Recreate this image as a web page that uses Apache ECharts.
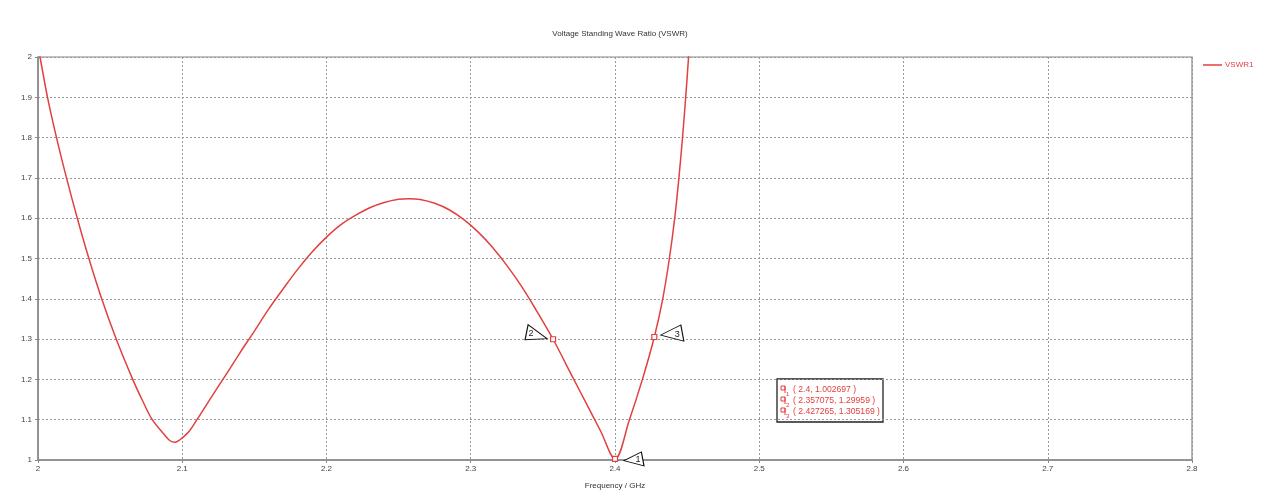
<!DOCTYPE html>
<html>
<head>
<meta charset="utf-8">
<title>Voltage Standing Wave Ratio (VSWR)</title>
<script src="https://cdn.jsdelivr.net/npm/echarts@6/dist/echarts.min.js"></script>
<style>
  html, body { margin: 0; padding: 0; background: #fff; }
  #chart { width: 1267px; height: 495px; }
</style>
</head>
<body>
<div id="chart"></div>
<script>
// Frequency sweep (GHz) and the VSWR at each frequency
const freqGHz = [2.0, 2.00139, 2.00659, 2.01283, 2.01976, 2.02724, 2.03529, 2.04416, 2.05421, 2.06565,
  2.0725, 2.0792, 2.0869, 2.0915, 2.095, 2.0984, 2.1042, 2.1102,
  2.12, 2.13, 2.14, 2.15, 2.16, 2.17, 2.18, 2.19, 2.2, 2.21, 2.22, 2.23, 2.24, 2.25, 2.257,
  2.265, 2.275, 2.285, 2.295, 2.305, 2.315, 2.325, 2.335, 2.345, 2.357075,
  2.37, 2.38, 2.39, 2.4, 2.41, 2.419, 2.427265,
  2.4331, 2.4377, 2.4414, 2.4443, 2.4468, 2.449, 2.451, 2.4528];
const vswr = [2.026, 2.0, 1.9, 1.8, 1.7, 1.6, 1.5, 1.4, 1.3, 1.2,
  1.147, 1.1, 1.066, 1.0478, 1.0438, 1.0502, 1.0686, 1.1,
  1.155, 1.21, 1.266, 1.32, 1.375, 1.425, 1.473, 1.516, 1.553, 1.584, 1.607, 1.626, 1.639, 1.647, 1.6485,
  1.6465, 1.637, 1.621, 1.597, 1.566, 1.528, 1.483, 1.432, 1.374, 1.29959,
  1.21, 1.141, 1.072, 1.002697, 1.1, 1.2, 1.305169,
  1.4, 1.5, 1.6, 1.7, 1.8, 1.9, 2.0, 2.1];

// Markers placed on the trace
const markerIds = ['1', '2', '3'];
const markerFreq = [2.4, 2.357075, 2.427265];
const markerVswr = [1.002697, 1.29959, 1.305169];

// Axis ticks
const xTicks = [2, 2.1, 2.2, 2.3, 2.4, 2.5, 2.6, 2.7, 2.8];
const yTicks = [1, 1.1, 1.2, 1.3, 1.4, 1.5, 1.6, 1.7, 1.8, 1.9, 2];

const RED = '#e2403f';
const FONT = 'Liberation Sans';

const seriesData = freqGHz.map((f, i) => [f, vswr[i]]);

// Flag shapes: pointing left (flag sits right of marker) and pointing right
const flagLeft = 'path://M0,10 L20,0 L23,16 Z';
const flagRight = 'path://M3,0 L0,14 L22,13 Z';
const flagSpec = {
  '1': { path: flagLeft, size: [20, 14], offset: [19, 0], labelOffset: [4, 1] },
  '2': { path: flagRight, size: [22, 15], offset: [-17, -7], labelOffset: [-5, 1] },
  '3': { path: flagLeft, size: [23, 16], offset: [18, -4], labelOffset: [5, 1] }
};

const markerDots = markerIds.map((id, i) => ({
  coord: [markerFreq[i], markerVswr[i]],
  symbol: 'rect', symbolSize: 5,
  itemStyle: { color: '#fff', borderColor: RED, borderWidth: 1.2 },
  label: { show: false }
}));
const markerFlags = markerIds.map((id, i) => ({
  coord: [markerFreq[i], markerVswr[i]],
  symbol: flagSpec[id].path,
  symbolSize: flagSpec[id].size,
  symbolOffset: flagSpec[id].offset,
  symbolKeepAspect: false,
  itemStyle: { color: '#fff', borderColor: '#111', borderWidth: 1 },
  label: {
    show: true, formatter: id, position: 'inside',
    offset: flagSpec[id].labelOffset,
    color: '#222', fontSize: 9, fontFamily: FONT
  }
}));

const chart = echarts.init(document.getElementById('chart'), null, { renderer: 'canvas' });

// Marker readout box
const boxX = 777, boxY = 379, boxW = 106, boxH = 43;
const readout = [
  { type: 'rect', shape: { x: boxX, y: boxY, width: boxW, height: boxH },
    style: { fill: '#fff', stroke: '#222', lineWidth: 1.3 } }
];
markerIds.forEach((id, i) => {
  const ly = boxY + 11 + i * 11;
  readout.push({ type: 'rect', shape: { x: boxX + 4, y: ly - 4, width: 4, height: 4 },
    style: { fill: 'none', stroke: RED, lineWidth: 1 } });
  readout.push({ type: 'line', shape: { x1: boxX + 8, y1: ly - 4, x2: boxX + 8, y2: ly + 3 },
    style: { stroke: RED, lineWidth: 1 } });
  readout.push({ type: 'text', x: boxX + 9, y: ly + 1,
    style: { text: id, fill: RED, fontSize: 6, fontFamily: FONT } });
  readout.push({ type: 'text', x: boxX + 16, y: ly - 5,
    style: { text: '( ' + markerFreq[i] + ', ' + markerVswr[i] + ' )',
      fill: RED, fontSize: 8.6, fontFamily: FONT } });
});

chart.setOption({
  animation: false,
  backgroundColor: '#fff',
  title: {
    text: 'Voltage Standing Wave Ratio (VSWR)',
    left: 615, top: 25, textAlign: 'center',
    textStyle: { fontSize: 8, fontWeight: 'normal', color: '#333', fontFamily: FONT }
  },
  legend: {
    data: ['VSWR1'], left: 1203, top: 61, padding: 0,
    icon: 'rect', itemWidth: 19, itemHeight: 1.5, itemGap: 4,
    textStyle: { color: RED, fontSize: 8, fontFamily: FONT, padding: [0, 0, 0, -2] }
  },
  grid: { left: 38, right: 75, top: 57, bottom: 34, show: true, borderColor: '#888', borderWidth: 1.2 },
  xAxis: {
    type: 'value', min: 2, max: 2.8, interval: 0.1,
    name: 'Frequency / GHz', nameLocation: 'middle', nameGap: 22,
    nameTextStyle: { fontSize: 8, color: '#333', fontFamily: FONT },
    axisLine: { lineStyle: { color: '#888', width: 1.5 } },
    axisTick: { show: true, length: 3, lineStyle: { color: '#888' } },
    axisLabel: {
      fontSize: 8, color: '#444', fontFamily: FONT, margin: 5,
      formatter: v => { const t = xTicks.find(x => Math.abs(x - v) < 1e-6); return t === undefined ? '' : String(t); }
    },
    splitLine: { show: true, lineStyle: { color: '#999', type: [2, 2], width: 1 } }
  },
  yAxis: {
    type: 'value', min: 1, max: 2, interval: 0.1,
    axisLine: { show: true, lineStyle: { color: '#888', width: 1.5 } },
    axisTick: { show: true, length: 3, lineStyle: { color: '#888' } },
    axisLabel: {
      fontSize: 8, color: '#444', fontFamily: FONT, margin: 6,
      formatter: v => { const t = yTicks.find(y => Math.abs(y - v) < 1e-6); return t === undefined ? '' : String(t); }
    },
    splitLine: { show: true, lineStyle: { color: '#999', type: [2, 2], width: 1 } }
  },
  series: [{
    name: 'VSWR1', type: 'line', data: seriesData,
    showSymbol: false, smooth: 0.35, clip: true,
    lineStyle: { color: RED, width: 1.5 },
    itemStyle: { color: RED },
    markPoint: { silent: true, data: markerFlags.concat(markerDots) }
  }],
  graphic: readout
});
</script>
</body>
</html>
